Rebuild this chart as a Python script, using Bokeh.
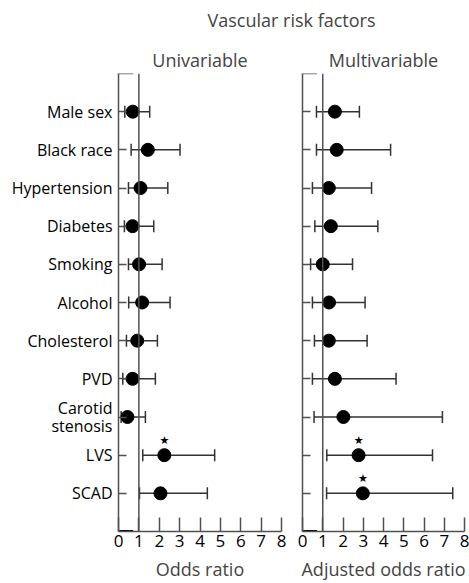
from bokeh.plotting import figure
from bokeh.layouts import column, row
from bokeh.models import Range1d, FixedTicker, Span, ColumnDataSource
from bokeh.core.properties import value
from bokeh.embed import file_html
from bokeh.resources import INLINE

# ---- data ----
factors = ["Male sex", "Black race", "Hypertension", "Diabetes", "Smoking", "Alcohol",
           "Cholesterol", "PVD", "Carotid\nstenosis", "LVS", "SCAD"]
uni_or = [0.70, 1.44, 1.08, 0.69, 1.01, 1.16, 0.92, 0.69, 0.44, 2.25, 2.06]
uni_lo = [0.31, 0.62, 0.49, 0.29, 0.49, 0.50, 0.39, 0.21, 0.13, 1.19, 1.03]
uni_hi = [1.53, 3.02, 2.42, 1.73, 2.14, 2.53, 1.91, 1.81, 1.32, 4.72, 4.36]
uni_sig = [0, 0, 0, 0, 0, 0, 0, 0, 0, 1, 0]

multi_or = [1.60, 1.69, 1.30, 1.40, 1.00, 1.31, 1.30, 1.60, 2.02, 2.77, 2.98]
multi_lo = [0.69, 0.69, 0.49, 0.61, 0.40, 0.49, 0.59, 0.49, 0.57, 1.20, 1.19]
multi_hi = [2.81, 4.35, 3.41, 3.72, 2.47, 3.09, 3.19, 4.62, 6.91, 6.42, 7.42]
multi_sig = [0, 0, 0, 0, 0, 0, 0, 0, 0, 1, 1]

x_ticks = [0, 1, 2, 3, 4, 5, 6, 7, 8]

FONT = "Open Sans"
AX = "#505050"
rows = list(range(1, len(factors) + 1))


def panel(title, xlabel, ors, los, his, sig, width, left, right, show_labels):
    p = figure(width=width, height=540, output_backend="svg", toolbar_location=None,
               x_range=Range1d(0, 8), y_range=Range1d(len(factors) + 1, 0),
               min_border_left=left, min_border_right=right, min_border_top=0,
               min_border_bottom=0, title=title)
    p.title.text_font = FONT
    p.title.text_font_size = "18px"
    p.title.text_font_style = "normal"
    p.title.align = "center"
    p.title.standoff = 4
    p.outline_line_color = None
    p.grid.visible = False

    p.xaxis.ticker = FixedTicker(ticks=x_ticks)
    p.xaxis.minor_tick_line_color = None
    p.xaxis.major_tick_in = 14
    p.xaxis.major_tick_out = 0
    p.xaxis.axis_line_color = AX
    p.xaxis.axis_line_width = 1.5
    p.xaxis.major_tick_line_color = AX
    p.xaxis.major_tick_line_width = 1.5
    p.xaxis.major_label_text_font = FONT
    p.xaxis.major_label_text_font_size = "17px"
    p.xaxis.major_label_text_color = "black"
    p.xaxis.major_label_standoff = 3
    p.xaxis.axis_label = xlabel
    p.xaxis.axis_label_text_font = FONT
    p.xaxis.axis_label_text_font_size = "18px"
    p.xaxis.axis_label_text_font_style = "normal"
    p.xaxis.axis_label_standoff = 7

    p.yaxis.ticker = FixedTicker(ticks=rows)
    p.yaxis.minor_tick_line_color = None
    p.yaxis.major_tick_in = 8
    p.yaxis.major_tick_out = 0
    p.yaxis.axis_line_color = AX
    p.yaxis.axis_line_width = 1.5
    p.yaxis.major_tick_line_color = AX
    p.yaxis.major_tick_line_width = 1.5
    if show_labels:
        p.yaxis.major_label_overrides = {r: f for r, f in zip(rows, factors)}
        p.yaxis.major_label_text_font = FONT
        p.yaxis.major_label_text_font_size = "16px"
        p.yaxis.major_label_text_color = "black"
        p.yaxis.major_label_text_line_height = 0.85
        p.yaxis.major_label_standoff = 6
    else:
        p.yaxis.major_label_overrides = {r: "" for r in rows}
        p.yaxis.major_label_text_font_size = "0px"
        p.yaxis.major_label_standoff = 0

    # reference line at OR = 1
    p.add_layout(Span(location=1, dimension="height", line_color=AX, line_width=1.5))

    # frame corner stubs
    top = 0
    bot = len(factors) + 1
    p.segment(x0=[0], y0=[top], x1=[0.72], y1=[top], line_color=AX, line_width=1.5)
    p.segment(x0=[0], y0=[bot], x1=[0.72], y1=[bot], line_color="black", line_width=3)

    src = ColumnDataSource(dict(y=rows, o=ors, lo=los, hi=his))
    p.segment(x0="lo", y0="y", x1="hi", y1="y", source=src, line_color="#333333", line_width=1.5)
    p.scatter(x="lo", y="y", source=src, marker="dash", angle=1.5708, size=12,
              line_color="#333333", line_width=1.5)
    p.scatter(x="hi", y="y", source=src, marker="dash", angle=1.5708, size=12,
              line_color="#333333", line_width=1.5)
    p.scatter(x="o", y="y", source=src, size=13, color="black")

    sx = [o for o, s in zip(ors, sig) if s]
    sy = [r for r, s in zip(rows, sig) if s]
    p.text(x=sx, y=sy, text=["★"] * len(sx), text_font=value("DejaVu Sans"),
           text_font_size="11px", text_align="center", text_baseline="middle",
           y_offset=-15, text_color="black")
    return p


p1 = panel("Univariable", "Odds ratio", uni_or, uni_lo, uni_hi, uni_sig, 291, 118, 10, True)
p2 = panel("Multivariable", "Adjusted odds ratio", multi_or, multi_lo, multi_hi, multi_sig,
           178, 11, 5, False)

strip = figure(width=469, height=43, output_backend="svg", toolbar_location=None,
               x_range=Range1d(0, 1), y_range=Range1d(0, 1),
               min_border_left=118, min_border_right=5, min_border_top=2, min_border_bottom=0,
               title="Vascular risk factors")
strip.title.text_font = FONT
strip.title.text_font_size = "18px"
strip.title.text_font_style = "normal"
strip.title.align = "center"
strip.title.offset = 0
strip.axis.visible = False
strip.grid.visible = False
strip.outline_line_color = None

layout = column(strip, row(p1, p2))
open("out.html", "w").write(file_html(layout, INLINE))
